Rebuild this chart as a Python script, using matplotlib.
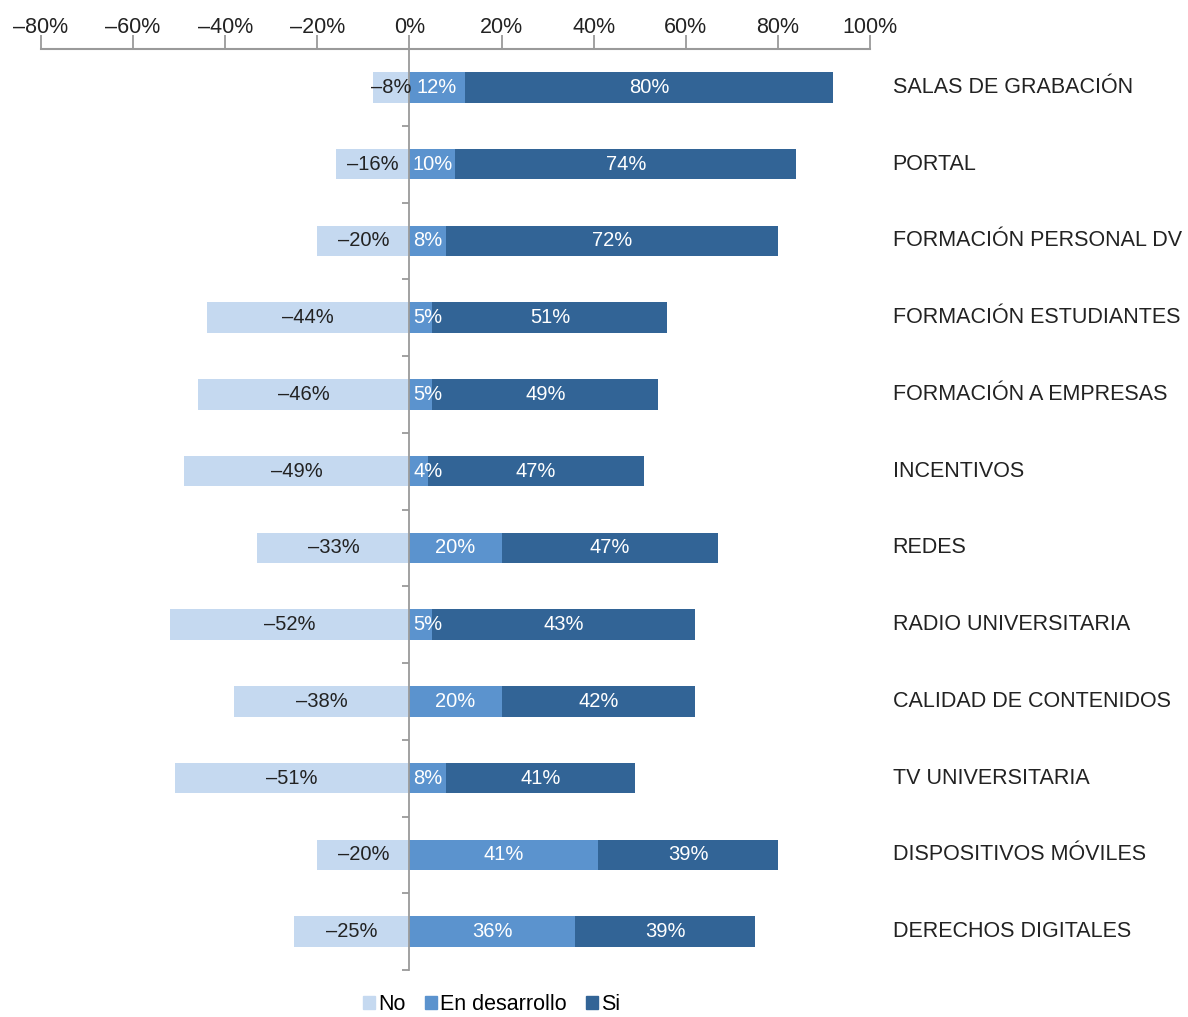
import matplotlib
matplotlib.use("Agg")
import matplotlib.pyplot as plt
from matplotlib.ticker import FuncFormatter
from matplotlib.patches import Patch
import numpy as np

categories = ["SALAS DE GRABACIÓN", "PORTAL", "FORMACIÓN PERSONAL DV",
              "FORMACIÓN ESTUDIANTES", "FORMACIÓN A EMPRESAS", "INCENTIVOS",
              "REDES", "RADIO UNIVERSITARIA", "CALIDAD DE CONTENIDOS",
              "TV UNIVERSITARIA", "DISPOSITIVOS MÓVILES", "DERECHOS DIGITALES"]
no_vals = [-8, -16, -20, -44, -46, -49, -33, -52, -38, -51, -20, -25]
desarrollo_vals = [12, 10, 8, 5, 5, 4, 20, 5, 20, 8, 41, 36]
si_vals = [80, 74, 72, 51, 49, 47, 47, 43, 42, 41, 39, 39]
# bar lengths as drawn in the source (the RADIO bar is longer than its label)
si_bar = [80, 74, 72, 51, 49, 47, 47, 57, 42, 41, 39, 39]

c_no = "#C5D9F0"
c_des = "#5B93CE"
c_si = "#326496"
grey = "#9A9A9A"

plt.rcParams['font.family'] = ['Liberation Sans', 'DejaVu Sans']

fig = plt.figure(figsize=(11.88, 10.17), dpi=100)
ax = fig.add_axes([41/1188, 47/1017, 829/1188, 921/1017])

y = np.arange(len(categories))
h = 0.4
ax.barh(y, no_vals, height=h, color=c_no)
ax.barh(y, desarrollo_vals, height=h, color=c_des)
ax.barh(y, si_bar, left=desarrollo_vals, height=h, color=c_si)

ax.set_xlim(-80, 100)
ax.set_ylim(11.5, -0.5)

def pct(v):
    return f"{abs(v):.0f}%" if v >= 0 else f"\u2013{abs(v):.0f}%"

for i in range(len(categories)):
    n, d, s = no_vals[i], desarrollo_vals[i], si_vals[i]
    ax.text(n / 2, i, pct(n), ha="center", va="center", fontsize=14.5,
            color="#222222")
    ax.text(max(d / 2, 4.0), i, pct(d), ha="center", va="center", fontsize=14.5,
            color="white")
    ax.text(d + si_bar[i] / 2, i, pct(s), ha="center", va="center", fontsize=14.5,
            color="white")
    ax.text(104.9, i, categories[i], ha="left", va="center", fontsize=15.5,
            color="#222222", clip_on=False)

# top axis
ax.xaxis.tick_top()
ax.set_xticks(np.arange(-80, 101, 20))
ax.xaxis.set_major_formatter(FuncFormatter(lambda v, p: pct(v)))
ax.tick_params(axis="x", direction="out", length=10, width=1.3, color=grey,
               labelsize=15.5, labelcolor="#222222", pad=-2)

# zero line as left spine
ax.spines["left"].set_position(("data", 0))
ax.spines["left"].set_color(grey)
ax.spines["left"].set_linewidth(1.3)
ax.spines["top"].set_color(grey)
ax.spines["top"].set_linewidth(1.5)
ax.spines["right"].set_visible(False)
ax.spines["bottom"].set_visible(False)
ax.set_yticks(np.arange(-0.5, 12, 1))
ax.set_yticklabels([])
ax.tick_params(axis="y", direction="out", length=5, width=1.3, color=grey)

handles = [Patch(color=c_no, label="No"), Patch(color=c_des, label="En desarrollo"),
           Patch(color=c_si, label="Si")]
fig.legend(handles=handles, loc="center", bbox_to_anchor=(492/1188, 1 - 1005/1017),
           ncol=3, frameon=False, fontsize=15.5, handlelength=0.55, handleheight=0.55,
           handletextpad=0.15, columnspacing=0.9, borderpad=0)

fig.savefig("out.png", dpi=100)
